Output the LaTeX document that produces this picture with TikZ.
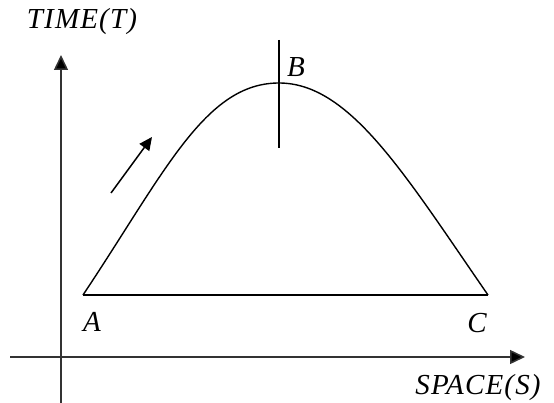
\documentclass[tikz,border=0pt]{standalone}
\usepackage{fontspec}
\setmainfont{Liberation Serif}
\usetikzlibrary{arrows.meta}
\begin{document}
\begin{tikzpicture}[x=1pt,y=-1pt,
  lbl/.style={font=\fontsize{29}{33}\selectfont\itshape\addfontfeature{LetterSpace=4}, inner sep=0pt},
  axis/.style={line width=1.5pt, draw=black!80, -{Triangle[length=15pt,width=14pt,fill=black]}},
  curve/.style={line width=1.4pt},
  dir/.style={line width=1.5pt, -{Triangle[length=13pt,width=12pt]}}]
\useasboundingbox (0,0) rectangle (554,403);
% axes
\coordinate (yb) at (61,403);
\coordinate (yt) at (61,55);
\coordinate (xl) at (10,357);
\coordinate (xr) at (525,357);
\draw[axis] (yb) -- (yt);
\draw[axis] (xl) -- (xr);
% points
\coordinate (A) at (83,295);
\coordinate (B) at (279,83);
\coordinate (C) at (488,295);
\coordinate (Bt) at (279,40);
\coordinate (Bb) at (279,148);
\draw[curve] (A) -- (C);
\draw[curve] (A) .. controls (165,172) and (205,83) .. (B)
                 .. controls (350,83) and (405,175) .. (C);
\draw[curve] (Bt) -- (Bb);
% direction arrow
\coordinate (d1) at (111,193);
\coordinate (d2) at (152,137);
\draw[dir] (d1) -- (d2);
% labels
\node[lbl] (lA) at (92,322) {A};
\node[lbl] (lB) at (296,67) {B};
\node[lbl] (lC) at (477,323) {C};
\node[lbl] (lT) at (82,22) {TIME(T)};
\node[lbl] (lS) at (478,388) {SPACE(S)};
\end{tikzpicture}
\end{document}
